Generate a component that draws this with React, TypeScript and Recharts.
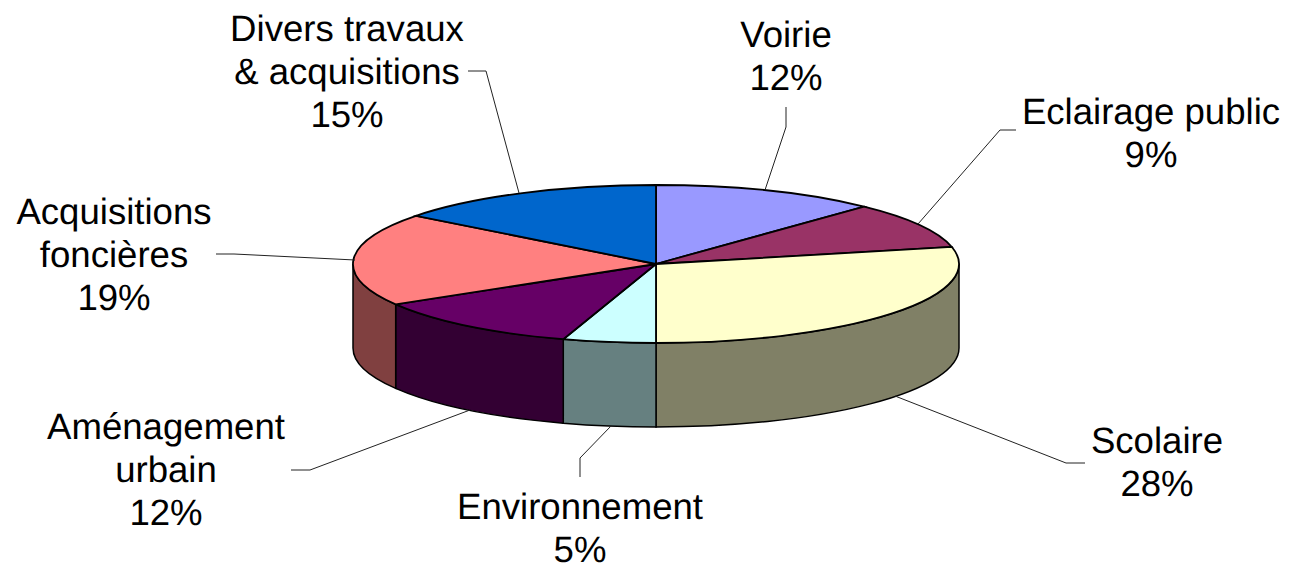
import { PieChart, Pie } from "recharts";

const categories = ["Voirie", "Eclairage public", "Scolaire", "Environnement", "Aménagement urbain", "Acquisitions foncières", "Divers travaux & acquisitions"];
const values = [12.05, 9.49, 28.46, 4.95, 11.5, 19.0, 14.55];
const colors = ["#9999FF", "#993366", "#FFFFCC", "#CCFFFF", "#660066", "#FF8080", "#0066CC"];
const wallColors = ["#4C4C80", "#4C1933", "#808066", "#668080", "#330033", "#804040", "#003366"];

// one entry per slice: text lines, centre x of the text, first baseline, leader line
const labelLines = [["Voirie"], ["Eclairage public"], ["Scolaire"], ["Environnement"], ["Aménagement", "urbain"], ["Acquisitions", "foncières"], ["Divers travaux", "& acquisitions"]];
const labelX = [786, 1151, 1157, 580, 166, 114, 347];
const labelY = [47, 124, 453, 519, 439, 224, 41];
const leaders = [
  "765,190 786,127 786,107",
  "918,224 1000,130 1016,130",
  "895,396 1066,463 1085,463",
  "611,426 580,458 580,477",
  "470,410 310,470 291,470",
  "355,260 234,254 216,254",
  "519,193 486,71 468,71",
];

const RY = 79;
const DEPTH = 84;
const FONT = "'Liberation Sans', Arial, sans-serif";
const FONT_SIZE = 36.6;
const LINE_H = 43;

const rad = (a: number) => (a * Math.PI) / 180;

function Slice3D(props: any) {
  const { cx, cy, outerRadius: rx, startAngle, endAngle, fill, index } = props;
  const pt = (a: number) => [cx + rx * Math.cos(rad(a)), cy - RY * Math.sin(rad(a))];
  const [sx, sy] = pt(startAngle);
  const [ex, ey] = pt(endAngle);
  const large = startAngle - endAngle > 180 ? 1 : 0;
  const top = `M${cx},${cy} L${sx},${sy} A${rx},${RY} 0 ${large} 1 ${ex},${ey} Z`;

  // the wall only shows on the front half of the ellipse, math angles 0 to -180
  const hi = Math.min(startAngle, 0);
  const lo = Math.max(endAngle, -180);
  let wall = null;
  if (hi > lo) {
    const [p0x, p0y] = pt(hi);
    const [p1x, p1y] = pt(lo);
    wall = (
      <path
        d={`M${p0x},${p0y} A${rx},${RY} 0 0 1 ${p1x},${p1y} L${p1x},${p1y + DEPTH} A${rx},${RY} 0 0 0 ${p0x},${p0y + DEPTH} Z`}
        fill={wallColors[index]}
        stroke="#000"
        strokeWidth={1.5}
      />
    );
  }
  return (
    <g>
      {wall}
      <path d={top} fill={fill} stroke="#000" strokeWidth={1.8} />
    </g>
  );
}

function SliceLabel(props: any) {
  const { index, percent } = props;
  const lines = [...labelLines[index], `${Math.round(percent * 100)}%`];
  return (
    <g>
      <polyline points={leaders[index]} fill="none" stroke="#222" strokeWidth={1} />
      <text x={labelX[index]} y={labelY[index]} textAnchor="middle" fontFamily={FONT} fontSize={FONT_SIZE} fill="#000" style={{ textRendering: "geometricPrecision" }}>
        {lines.map((l, i) => (
          <tspan key={i} x={labelX[index]} y={labelY[index] + i * LINE_H}>
            {l}
          </tspan>
        ))}
      </text>
    </g>
  );
}

const data = categories.map((name, i) => ({ name, value: values[i], fill: colors[i] }));

export default function App() {
  return (
    <div style={{ position: "absolute", left: 0, top: 0, width: 1290, height: 567, background: "#fff" }}>
      <PieChart width={1290} height={567} margin={{ top: 0, right: 0, bottom: 0, left: 0 }}>
        <Pie
          data={data}
          dataKey="value"
          nameKey="name"
          cx={656}
          cy={264}
          innerRadius={0}
          outerRadius={303}
          startAngle={90}
          endAngle={-270}
          paddingAngle={0}
          stroke="#000"
          shape={Slice3D}
          label={SliceLabel}
          labelLine={false}
          isAnimationActive={false}
        />
      </PieChart>
    </div>
  );
}
